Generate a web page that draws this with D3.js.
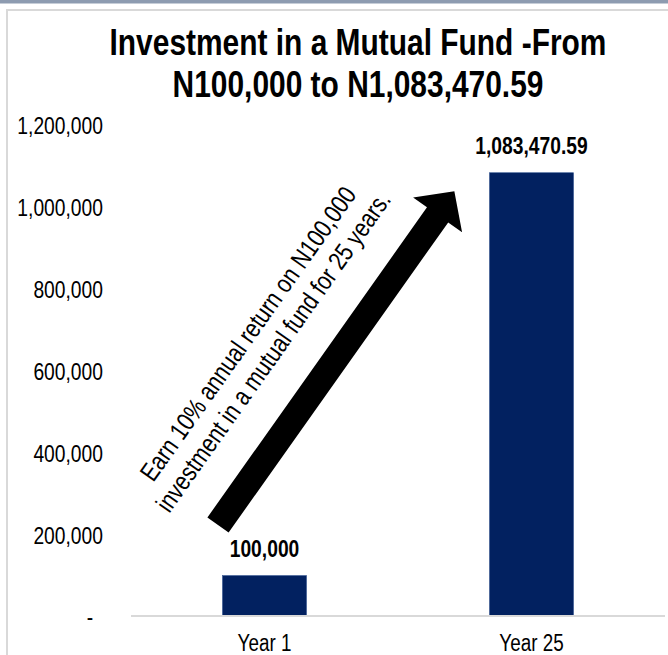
<!DOCTYPE html>
<html>
<head>
<meta charset="utf-8">
<title>Investment in a Mutual Fund</title>
<script type="text/javascript" src="https://cdn.jsdelivr.net/npm/d3@7"></script>
<style>
body { margin: 0; background: #fff; }
text { font-family: "Liberation Sans", Arial, sans-serif; }
</style>
</head>
<body>
<div id="chart"></div>
<script type="text/javascript">
// data
var categories = ["Year 1", "Year 25"];
var values = [100000, 1083470.59];
var valueLabels = ["100,000", "1,083,470.59"];
var yTicks = [0, 200000, 400000, 600000, 800000, 1000000, 1200000];
var titleLines = ["Investment in a Mutual Fund -From", "N100,000 to N1,083,470.59"];
var noteLines = ["Earn 10% annual return on N100,000", "investment in a mutual fund for 25 years."];

// Arial Narrow look: Liberation Sans squeezed horizontally
var narrow = "scale(0.82,1)";

var svgWidth = 668, svgHeight = 655;
var margin = {top: 125, right: 3, bottom: 38.5, left: 131};
var width = svgWidth - margin.left - margin.right,
    height = svgHeight - margin.top - margin.bottom;

var svg = d3.select("#chart").append("svg")
    .attr("width", svgWidth)
    .attr("height", svgHeight);

// frame: top bar + light border
svg.append("rect")
    .attr("x", 0).attr("y", 0)
    .attr("width", svgWidth).attr("height", 3.5)
    .attr("fill", "#8d9bb0");
svg.append("path")
    .attr("d", "M7,655 V10 H668")
    .attr("fill", "none")
    .attr("stroke", "#d9d9d9")
    .attr("stroke-width", 2);

// title
svg.append("g")
    .attr("transform", "translate(358,55) " + narrow)
    .append("text")
    .attr("text-anchor", "middle")
    .attr("font-size", "36.5px")
    .attr("font-weight", "bold")
    .attr("fill", "#000")
    .selectAll("tspan")
    .data(titleLines)
    .enter()
    .append("tspan")
    .attr("x", 0)
    .attr("y", function(d, i) { return i * 42; })
    .text(function(d) { return d; });

var g = svg.append("g")
    .attr("transform", "translate(" + margin.left + "," + margin.top + ")");

var x = d3.scaleBand()
    .domain(categories)
    .range([0, width])
    .paddingInner(0.685)
    .paddingOuter(0.3425);

var y = d3.scaleLinear()
    .domain([0, 1200000])
    .range([height, 0]);

// y axis (labels only)
var yAxis = g.append("g")
    .attr("class", "axis axis--y")
    .attr("transform", "translate(-28,0)")
    .call(d3.axisLeft(y)
        .tickValues(yTicks)
        .tickSize(0)
        .tickPadding(0)
        .tickFormat(function(d) { return d === 0 ? "-" : d3.format(",")(d); }));
yAxis.attr("font-family", null).attr("font-size", null);
yAxis.select(".domain").remove();
yAxis.selectAll("text")
    .attr("font-size", "23.5px")
    .attr("fill", "#000")
    .attr("dy", "0.36em")
    .attr("x", function(d) { return d === 0 ? -12 : 0; })
    .attr("transform", narrow);

// bars
g.selectAll(".bar")
    .data(values)
    .enter()
    .append("rect")
    .attr("class", "bar")
    .attr("x", function(d, i) { return x(categories[i]); })
    .attr("y", function(d) { return y(d); })
    .attr("width", x.bandwidth())
    .attr("height", function(d) { return height - y(d); })
    .attr("fill", "#022160")
    .attr("stroke", "#3a5a94")
    .attr("stroke-width", 0.6);

// value labels
g.selectAll(".val")
    .data(values)
    .enter()
    .append("g")
    .attr("class", "val")
    .attr("transform", function(d, i) {
        return "translate(" + (x(categories[i]) + x.bandwidth() / 2) + "," + (y(d) - 19) + ") " + narrow;
    })
    .append("text")
    .attr("text-anchor", "middle")
    .attr("font-size", "23.5px")
    .attr("font-weight", "bold")
    .attr("fill", "#000")
    .text(function(d, i) { return valueLabels[i]; });

// baseline
g.append("line")
    .attr("x1", 0).attr("x2", width)
    .attr("y1", y(0) - 0.5).attr("y2", y(0) - 0.5)
    .attr("stroke", "#d9d9d9")
    .attr("stroke-width", 2);

// x axis labels
var xAxis = g.append("g")
    .attr("class", "axis axis--x")
    .attr("transform", "translate(0," + height + ")")
    .call(d3.axisBottom(x).tickSize(0).tickPadding(0));
xAxis.attr("font-family", null).attr("font-size", null);
xAxis.select(".domain").remove();
xAxis.selectAll("text")
    .attr("font-size", "23px")
    .attr("fill", "#000")
    .attr("dy", 0)
    .attr("y", 35)
    .attr("transform", narrow);

// big arrow annotation
var angle = -54.7;
var shaftLen = 380, headLen = 29, shaftHalf = 13, headHalf = 30;
var arrow = svg.append("g")
    .attr("transform", "translate(218,525) rotate(" + angle + ")");
arrow.append("path")
    .attr("d", d3.line()([
        [0, -shaftHalf], [shaftLen, -shaftHalf], [shaftLen, -headHalf],
        [shaftLen + headLen, 0],
        [shaftLen, headHalf], [shaftLen, shaftHalf], [0, shaftHalf]
    ]) + "Z")
    .attr("fill", "#000");

var note = svg.append("g")
    .attr("transform", "translate(261,343) rotate(" + angle + ") " + narrow);
note.append("text")
    .attr("text-anchor", "middle")
    .attr("font-size", "26px")
    .attr("fill", "#000")
    .selectAll("tspan")
    .data(noteLines)
    .enter()
    .append("tspan")
    .attr("x", 0)
    .attr("y", function(d, i) { return i === 0 ? -7 : 24; })
    .text(function(d) { return d; });
</script>
</body>
</html>
